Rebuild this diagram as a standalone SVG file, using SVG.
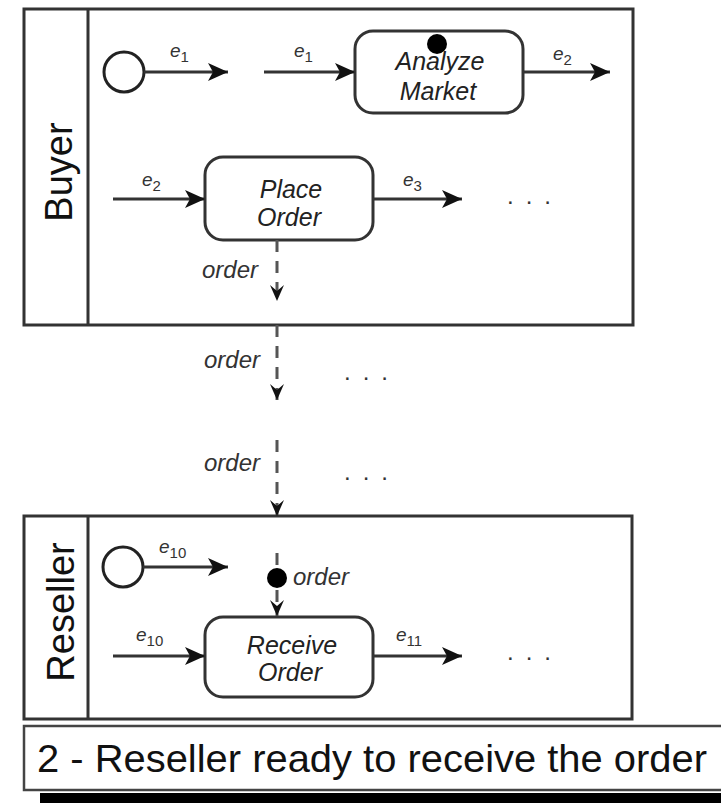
<svg xmlns="http://www.w3.org/2000/svg" width="721" height="803" viewBox="0 0 721 803">
<style>
.lane{fill:#fff;stroke:#333;stroke-width:3}
.div{stroke:#333;stroke-width:3}
.lanet{font-family:"Liberation Sans",Arial,sans-serif;font-size:38px;fill:#111;text-anchor:middle}
.node{fill:#fff;stroke:#333;stroke-width:3}
.nt{font-family:"Liberation Sans",Arial,sans-serif;font-style:italic;font-size:25px;fill:#222;text-anchor:middle}
.start{fill:#fff;stroke:#222;stroke-width:3}
.flow{fill:none;stroke:#333;stroke-width:3;marker-end:url(#ah)}
.data{fill:none;stroke:#555;stroke-width:3;stroke-dasharray:12 9}
.dataa{fill:none;stroke:#555;stroke-width:3;stroke-dasharray:12 9;marker-end:url(#dh)}
.lbl{font-family:"Liberation Sans",Arial,sans-serif;font-style:italic;font-size:19px;fill:#333}
.sub{font-size:15px;font-style:normal}
.ol{font-family:"Liberation Sans",Arial,sans-serif;font-style:italic;font-size:24px;fill:#333}
.dots{font-family:"Liberation Sans",Arial,sans-serif;font-size:24px;fill:#333;letter-spacing:12px}
.cap{font-family:"Liberation Sans",Arial,sans-serif;font-size:39px;fill:#111}
</style>
<defs>
<marker id="ah" viewBox="0 0 20 18" refX="20" refY="9" markerWidth="20" markerHeight="18" markerUnits="userSpaceOnUse" orient="auto">
<path d="M0,0 L20,9 L0,18 L5,9 z" fill="#111"/>
</marker>
<marker id="dh" viewBox="0 0 16 14" refX="16" refY="7" markerWidth="16" markerHeight="14" markerUnits="userSpaceOnUse" orient="auto">
<path d="M0,0 L16,7 L0,14 L6,7 z" fill="#111"/>
</marker>
</defs>

<g id="lane-buyer">
<rect class="lane" x="24" y="9" width="609" height="316"/>
<line class="div" x1="88" y1="9" x2="88" y2="325"/>
<text class="lanet" transform="translate(72,172) rotate(-90)">Buyer</text>
</g>

<g id="lane-reseller">
<rect class="lane" x="24" y="516" width="608" height="203"/>
<line class="div" x1="88" y1="516" x2="88" y2="719"/>
<text class="lanet" transform="translate(74,612) rotate(-90)">Reseller</text>
</g>

<g id="start-buyer"><circle class="start" cx="124" cy="72" r="20"/></g>
<g id="start-reseller"><circle class="start" cx="123" cy="567" r="20"/></g>

<g id="analyze-market">
<rect class="node" x="355" y="31" width="168" height="82" rx="18"/>
<text class="nt" x="440" y="70">Analyze</text>
<text class="nt" x="438" y="100">Market</text>
<circle cx="437" cy="44" r="10" fill="#000"/>
</g>

<g id="place-order">
<rect class="node" x="205" y="157" width="168" height="83" rx="18"/>
<text class="nt" x="291" y="198">Place</text>
<text class="nt" x="289" y="226">Order</text>
</g>

<g id="receive-order">
<rect class="node" x="205" y="617" width="168" height="80" rx="18"/>
<text class="nt" x="292" y="654">Receive</text>
<text class="nt" x="290" y="681">Order</text>
</g>

<g id="connectors">
<path class="flow" d="M144,72 L228,72"/>
<path class="flow" d="M264,72 L355,72"/>
<path class="flow" d="M523,72 L610,72"/>
<path class="flow" d="M113,199 L205,199"/>
<path class="flow" d="M373,199 L462,199"/>
<path class="flow" d="M143,567 L228,567"/>
<path class="flow" d="M113,656 L205,656"/>
<path class="flow" d="M373,656 L462,656"/>
<path class="dataa" d="M277,240 L277,301"/>
<path class="dataa" d="M277,325 L277,400"/>
<path class="dataa" d="M277,440 L277,516"/>
<path class="data" d="M277,553 L277,570"/>
<circle cx="277" cy="578" r="10" fill="#000"/>
<path class="dataa" d="M277,590 L277,616"/>
</g>

<g id="labels">
<text class="lbl" x="170" y="57">e<tspan class="sub" dy="5">1</tspan></text>
<text class="lbl" x="294" y="57">e<tspan class="sub" dy="5">1</tspan></text>
<text class="lbl" x="553" y="60">e<tspan class="sub" dy="5">2</tspan></text>
<text class="lbl" x="142" y="186">e<tspan class="sub" dy="5">2</tspan></text>
<text class="lbl" x="403" y="186">e<tspan class="sub" dy="5">3</tspan></text>
<text class="lbl" x="159" y="553">e<tspan class="sub" dy="5">10</tspan></text>
<text class="lbl" x="136" y="641">e<tspan class="sub" dy="5">10</tspan></text>
<text class="lbl" x="396" y="641">e<tspan class="sub" dy="5">11</tspan></text>
<text class="ol" x="258" y="278" text-anchor="end">order</text>
<text class="ol" x="260" y="368" text-anchor="end">order</text>
<text class="ol" x="260" y="471" text-anchor="end">order</text>
<text class="ol" x="293" y="585">order</text>
<text class="dots" x="507" y="204">...</text>
<text class="dots" x="344" y="380">...</text>
<text class="dots" x="344" y="480">...</text>
<text class="dots" x="507" y="660">...</text>
</g>

<g id="caption">
<rect x="40" y="793" width="700" height="20" fill="#000"/>
<rect x="24" y="726" width="720" height="64" fill="#fff" stroke="#444" stroke-width="2.5"/>
<text class="cap" x="37" y="772" textLength="670" lengthAdjust="spacingAndGlyphs">2 - Reseller ready to receive the order</text>
</g>
</svg>
